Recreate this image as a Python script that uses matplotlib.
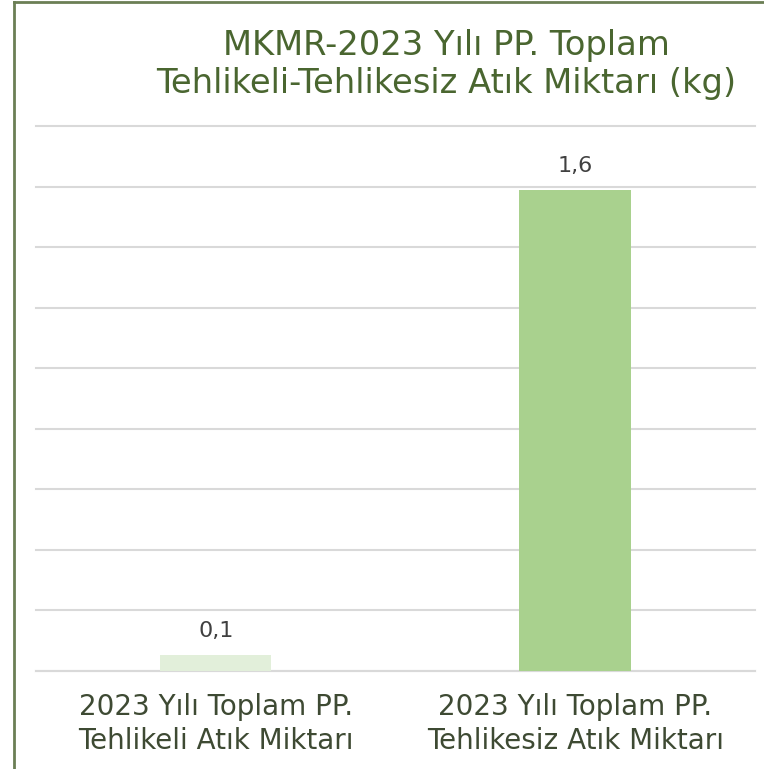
import matplotlib
matplotlib.use("Agg")
import matplotlib.pyplot as plt
from matplotlib.lines import Line2D

# waste totals for 2023 (kg)
categories = ["2023 Yılı Toplam PP.\nTehlikeli Atık Miktarı",
              "2023 Yılı Toplam PP.\nTehlikesiz Atık Miktarı"]
values = [0.053, 1.59]
bar_colors = ["#e2efda", "#a9d18e"]
title = "MKMR-2023 Yılı PP. Toplam\nTehlikeli-Tehlikesiz Atık Miktarı (kg)"

plt.rcParams['font.family'] = ['DejaVu Sans']

fig = plt.figure(figsize=(7.64, 7.69), dpi=100)
fig.patch.set_facecolor('white')

ax = fig.add_axes([0.0471, 0.1274, 0.941, 0.7088])
x = list(range(len(values)))
bars = ax.bar(x, values, width=0.31, color=bar_colors, zorder=3)
ax.set_xlim(-0.5, 1.5)
ax.set_ylim(0, 1.8)
ax.set_yticks([i * 0.2 for i in range(10)])
ax.yaxis.grid(True, color='#d9d9d9', lw=1.5, zorder=0)
for gl in ax.get_ygridlines():
    gl.set_clip_on(False)
ax.tick_params(axis='y', left=False, labelleft=False)
ax.tick_params(axis='x', bottom=False)
ax.set_xticks(x)
ax.set_xticklabels(categories, fontsize=20, color='#3e4a33', linespacing=1.3)
ax.tick_params(axis='x', pad=12)
for s in ['top', 'right', 'left']:
    ax.spines[s].set_visible(False)
ax.spines['bottom'].set_color('#d9d9d9')
ax.spines['bottom'].set_linewidth(1.5)

# value labels with comma decimals
for b, v in zip(bars, values):
    ax.annotate(f"{v:.1f}".replace('.', ','),
                (b.get_x() + b.get_width() / 2, b.get_height()),
                xytext=(0, 10), textcoords='offset points',
                ha='center', va='bottom', fontsize=16, color='#404040')

fig.text(0.5844, 0.9166, title, ha='center', va='center', fontsize=24.3,
         color='#4a6630', linespacing=1.2)

# frame line on the left and top edges
fig.add_artist(Line2D([0.0177, 0.0177], [0.0, 0.9975], transform=fig.transFigure,
                      color='#6b7f55', lw=2))
fig.add_artist(Line2D([0.0177, 1.0], [0.9975, 0.9975], transform=fig.transFigure,
                      color='#6b7f55', lw=2))

fig.savefig('out.png', dpi=100, facecolor='white')
